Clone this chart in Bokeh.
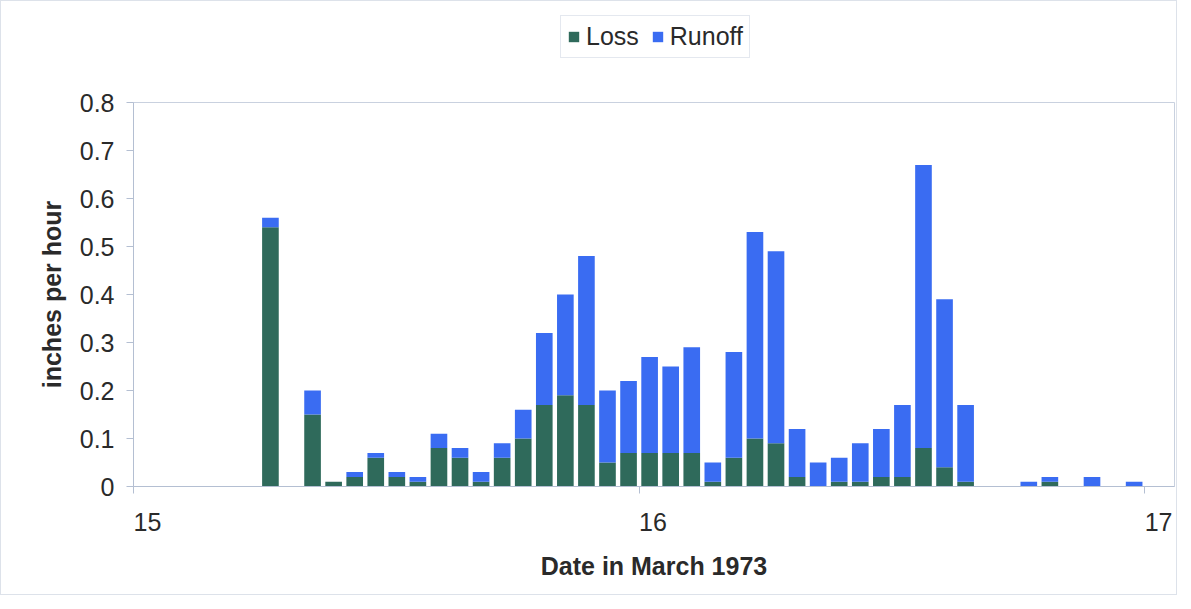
from bokeh.plotting import figure
from bokeh.layouts import column
from bokeh.models import ColumnDataSource, FixedTicker, Range1d, Legend, LegendItem
from bokeh.embed import file_html
from bokeh.resources import INLINE

# hours after 00:00 on 15 March 1973 (bar centres)
hours = [6.5, 8.5, 9.5, 10.5, 11.5, 12.5, 13.5, 14.5, 15.5, 16.5, 17.5, 18.5,
         19.5, 20.5, 21.5, 22.5, 23.5, 24.5, 25.5, 26.5, 27.5, 28.5, 29.5, 30.5,
         31.5, 32.5, 33.5, 34.5, 35.5, 36.5, 37.5, 38.5, 39.5, 42.5, 43.5, 45.5, 47.5]
loss = [0.54, 0.15, 0.01, 0.02, 0.06, 0.02, 0.01, 0.08, 0.06, 0.01, 0.06, 0.10,
        0.17, 0.19, 0.17, 0.05, 0.07, 0.07, 0.07, 0.07, 0.01, 0.06, 0.10, 0.09,
        0.02, 0.00, 0.01, 0.01, 0.02, 0.02, 0.08, 0.04, 0.01, 0.00, 0.01, 0.00, 0.00]
runoff = [0.02, 0.05, 0.00, 0.01, 0.01, 0.01, 0.01, 0.03, 0.02, 0.02, 0.03, 0.06,
          0.15, 0.21, 0.31, 0.15, 0.15, 0.20, 0.18, 0.22, 0.04, 0.22, 0.43, 0.40,
          0.10, 0.05, 0.05, 0.08, 0.10, 0.15, 0.59, 0.35, 0.16, 0.01, 0.01, 0.02, 0.01]
series = ["Loss", "Runoff"]
colors = ["#2f6a5b", "#3a6cf2"]
y_ticks = [0, 0.1, 0.2, 0.3, 0.4, 0.5, 0.6, 0.7, 0.8]
x_ticks = [15, 16, 17]
x_tick_labels = ["15", "16", "17"]

date = [15 + h / 24.0 for h in hours]
src = ColumnDataSource(dict(date=date, Loss=loss, Runoff=runoff))

FONT = "Liberation Sans"
TXT = "#2a2a2a"
AX = "#b4bfd2"
NB = "\u00a0" * 4
W = 1175
H_LEG = 60

# ---- legend strip on top (zero-height proxy bars carry the legend swatches) ----
pl = figure(width=W, height=H_LEG, output_backend="svg", toolbar_location=None,
            x_range=Range1d(0, 1), y_range=Range1d(0, 1), min_border=0)
pl.axis.visible = False
pl.grid.visible = False
pl.outline_line_color = None
proxy_src = ColumnDataSource(dict(x=[0.5], top=[0.0]))
proxies = [pl.vbar(x="x", top="top", width=0.01, source=proxy_src,
                   fill_color=c, line_color=None) for c in colors]
legend = Legend(items=[LegendItem(label=s, renderers=[r]) for s, r in zip(series, proxies)],
                orientation="horizontal", location=(427, 3))
legend.label_text_font = FONT
legend.label_text_font_size = "25px"
legend.label_text_color = TXT
legend.glyph_width = 13
legend.glyph_height = 13
legend.label_standoff = 6
legend.spacing = 12
legend.padding = 6
legend.margin = 0
legend.border_line_color = "#c9d1df"
legend.background_fill_alpha = 1
pl.add_layout(legend)

# ---- main chart ----
p = figure(width=W, height=593 - H_LEG, output_backend="svg", toolbar_location=None,
           x_range=Range1d(15, 17.059), y_range=Range1d(0, 0.8),
           min_border_left=132, min_border_right=2, min_border_top=101 - H_LEG,
           min_border_bottom=108)

p.vbar_stack(series, x="date", width=0.79 / 24, source=src,
             color=colors, line_color=None)

p.grid.visible = False
p.outline_line_color = "#c9d1df"

xa = p.xaxis[0]
xa.ticker = FixedTicker(ticks=x_ticks)
xa.major_label_overrides = {t: NB + s for t, s in zip(x_ticks, x_tick_labels)}
xa.minor_tick_line_color = None
xa.major_tick_in = 0
xa.major_tick_out = 7
xa.axis_line_color = AX
xa.major_tick_line_color = AX
xa.major_label_text_font = FONT
xa.major_label_text_font_size = "25px"
xa.major_label_text_color = TXT
xa.major_label_standoff = 14
xa.axis_label = "Date in March 1973"
xa.axis_label_text_font = FONT
xa.axis_label_text_font_size = "25px"
xa.axis_label_text_font_style = "bold"
xa.axis_label_text_color = TXT
xa.axis_label_standoff = 13

ya = p.yaxis[0]
ya.ticker = FixedTicker(ticks=y_ticks)
ya.major_label_overrides = {0: "0"}
ya.minor_tick_line_color = None
ya.major_tick_in = 0
ya.major_tick_out = 7
ya.axis_line_color = AX
ya.major_tick_line_color = AX
ya.major_label_text_font = FONT
ya.major_label_text_font_size = "25px"
ya.major_label_text_color = TXT
ya.major_label_standoff = 12
ya.axis_label = "inches per hour"
ya.axis_label_text_font = FONT
ya.axis_label_text_font_size = "25px"
ya.axis_label_text_font_style = "bold"
ya.axis_label_text_color = TXT
ya.axis_label_standoff = 11

layout = column(pl, p, spacing=0)
layout.styles = {"border": "1px solid #dde2ea"}

open("out.html", "w").write(file_html(layout, INLINE))
